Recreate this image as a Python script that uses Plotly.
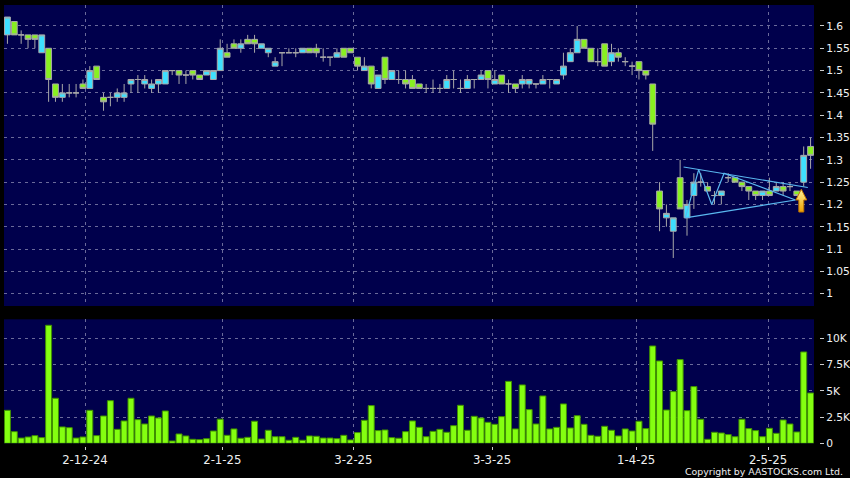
import plotly.graph_objects as go

# ---------------- data ----------------
date_tick_pos = [11.3, 31.3, 50.4, 70.6, 91.6, 110.8]
date_tick_labels = ["2-12-24", "2-1-25", "3-2-25", "3-3-25", "1-4-25", "2-5-25"]

price_ticks = [1.0, 1.05, 1.1, 1.15, 1.2, 1.25, 1.3, 1.35, 1.4, 1.45, 1.5, 1.55, 1.6]
price_tick_labels = ["1", "1.05", "1.1", "1.15", "1.2", "1.25", "1.3", "1.35", "1.4",
                     "1.45", "1.5", "1.55", "1.6"]
vol_ticks = [0, 2500, 5000, 7500, 10000]
vol_tick_labels = ["0", "2.5K", "5K", "7.5K", "10K"]

open_ = [1.58, 1.61, 1.58, 1.58, 1.58, 1.54, 1.55, 1.47, 1.44, 1.45,
         1.45, 1.47, 1.46, 1.51, 1.44, 1.44, 1.44, 1.44, 1.47, 1.48,
         1.47, 1.46, 1.47, 1.47, 1.50, 1.50, 1.49, 1.50, 1.49, 1.49,
         1.48, 1.50, 1.54, 1.56, 1.55, 1.57, 1.57, 1.55, 1.54, 1.51,
         1.54, 1.54, 1.54, 1.54, 1.55, 1.55, 1.53, 1.53, 1.53, 1.55,
         1.55, 1.53, 1.50, 1.51, 1.46, 1.53, 1.48, 1.48, 1.48, 1.48,
         1.47, 1.46, 1.46, 1.46, 1.46, 1.48, 1.46, 1.46, 1.48, 1.48,
         1.50, 1.47, 1.49, 1.47, 1.47, 1.47, 1.47, 1.47, 1.47, 1.48,
         1.47, 1.49, 1.52, 1.54, 1.57, 1.55, 1.52, 1.56, 1.52, 1.54,
         1.52, 1.51, 1.52, 1.50, 1.47, 1.23, 1.17, 1.14, 1.26, 1.17,
         1.22, 1.25, 1.24, 1.22, 1.22, 1.26, 1.26, 1.25, 1.24, 1.23,
         1.22, 1.23, 1.23, 1.24, 1.24, 1.23, 1.25, 1.33]

high = [1.62, 1.61, 1.59, 1.58, 1.58, 1.58, 1.55, 1.47, 1.47, 1.47,
        1.47, 1.48, 1.51, 1.51, 1.45, 1.45, 1.46, 1.47, 1.48, 1.49,
        1.49, 1.48, 1.48, 1.50, 1.50, 1.50, 1.50, 1.50, 1.49, 1.50,
        1.50, 1.57, 1.56, 1.57, 1.57, 1.58, 1.58, 1.56, 1.55, 1.53,
        1.54, 1.55, 1.55, 1.55, 1.55, 1.56, 1.55, 1.53, 1.55, 1.55,
        1.55, 1.53, 1.53, 1.51, 1.49, 1.53, 1.50, 1.50, 1.50, 1.49,
        1.47, 1.47, 1.48, 1.47, 1.49, 1.50, 1.48, 1.49, 1.48, 1.50,
        1.50, 1.50, 1.49, 1.48, 1.47, 1.49, 1.48, 1.47, 1.49, 1.48,
        1.48, 1.54, 1.55, 1.60, 1.57, 1.55, 1.55, 1.56, 1.56, 1.55,
        1.53, 1.52, 1.52, 1.50, 1.47, 1.25, 1.20, 1.17, 1.30, 1.21,
        1.27, 1.27, 1.25, 1.23, 1.23, 1.27, 1.26, 1.25, 1.24, 1.23,
        1.23, 1.26, 1.25, 1.25, 1.25, 1.23, 1.33, 1.35]

low = [1.56, 1.58, 1.56, 1.55, 1.55, 1.54, 1.43, 1.43, 1.43, 1.44,
       1.44, 1.46, 1.46, 1.48, 1.41, 1.42, 1.43, 1.43, 1.45, 1.45,
       1.46, 1.45, 1.45, 1.47, 1.49, 1.47, 1.47, 1.48, 1.48, 1.49,
       1.48, 1.50, 1.53, 1.55, 1.54, 1.56, 1.54, 1.55, 1.53, 1.51,
       1.51, 1.54, 1.53, 1.54, 1.54, 1.53, 1.52, 1.51, 1.53, 1.53,
       1.54, 1.50, 1.50, 1.46, 1.46, 1.47, 1.48, 1.47, 1.46, 1.46,
       1.46, 1.45, 1.45, 1.45, 1.46, 1.46, 1.45, 1.46, 1.46, 1.48,
       1.46, 1.47, 1.47, 1.45, 1.45, 1.46, 1.46, 1.46, 1.47, 1.46,
       1.47, 1.48, 1.52, 1.54, 1.55, 1.52, 1.51, 1.51, 1.51, 1.52,
       1.51, 1.49, 1.48, 1.48, 1.32, 1.14, 1.15, 1.08, 1.19, 1.13,
       1.19, 1.24, 1.23, 1.20, 1.20, 1.25, 1.25, 1.23, 1.21, 1.21,
       1.21, 1.22, 1.23, 1.22, 1.23, 1.22, 1.24, 1.28]

close = [1.62, 1.58, 1.58, 1.57, 1.57, 1.58, 1.48, 1.44, 1.45, 1.45,
         1.45, 1.46, 1.50, 1.48, 1.43, 1.44, 1.45, 1.45, 1.48, 1.48,
         1.48, 1.47, 1.48, 1.50, 1.50, 1.49, 1.49, 1.49, 1.48, 1.50,
         1.50, 1.55, 1.53, 1.55, 1.56, 1.56, 1.56, 1.56, 1.55, 1.52,
         1.54, 1.54, 1.54, 1.55, 1.54, 1.54, 1.53, 1.53, 1.54, 1.53,
         1.54, 1.51, 1.51, 1.47, 1.49, 1.48, 1.50, 1.48, 1.47, 1.46,
         1.46, 1.46, 1.46, 1.46, 1.48, 1.48, 1.46, 1.48, 1.48, 1.49,
         1.48, 1.48, 1.47, 1.47, 1.46, 1.48, 1.48, 1.47, 1.48, 1.48,
         1.48, 1.51, 1.54, 1.57, 1.55, 1.52, 1.52, 1.51, 1.54, 1.53,
         1.52, 1.51, 1.50, 1.49, 1.38, 1.19, 1.18, 1.17, 1.19, 1.20,
         1.25, 1.25, 1.23, 1.22, 1.23, 1.26, 1.25, 1.24, 1.23, 1.22,
         1.23, 1.22, 1.24, 1.23, 1.24, 1.22, 1.31, 1.31]

volume_k = [3.14, 1.11, 0.5, 0.6, 0.73, 0.54, 11.24, 4.29, 1.56, 1.49,
            0.5, 0.6, 3.14, 0.73, 2.6, 4.06, 1.33, 2.13, 4.29, 2.25,
            1.84, 2.6, 2.41, 3.08, 0.22, 0.89, 0.7, 0.38, 0.35, 0.44,
            1.17, 2.3, 0.76, 1.37, 0.48, 0.57, 2.1, 0.41, 1.24, 0.63,
            0.63, 0.29, 0.57, 0.29, 0.7, 0.67, 0.5, 0.5, 0.44, 0.76,
            0.32, 1.02, 2.19, 3.59, 1.21, 1.27, 0.54, 0.48, 1.11, 2.13,
            1.52, 0.63, 1.14, 1.33, 1.05, 1.68, 3.62, 1.24, 2.57, 2.41,
            2.0, 1.81, 2.54, 5.9, 1.37, 5.56, 3.21, 1.84, 4.51, 1.37,
            1.52, 3.75, 1.46, 2.63, 1.81, 0.76, 0.67, 1.62, 1.24, 0.7,
            1.37, 1.17, 2.1, 1.4, 9.27, 7.84, 3.17, 4.92, 7.97, 3.11,
            5.4, 2.29, 0.38, 1.05, 0.98, 0.83, 0.63, 2.29, 1.4, 1.21,
            0.63, 1.43, 0.95, 2.22, 1.84, 1.08, 8.7, 4.79]

# triangle pattern drawn on the chart (session index, price)
tri_upper_k = [98.5, 116.6]
tri_upper_p = [1.284, 1.238]
tri_lower_k = [98.75, 114.8]
tri_lower_p = [1.170, 1.210]
zigzag_k = [98.75, 100.7, 102.6, 104.4, 114.8]
zigzag_p = [1.170, 1.278, 1.200, 1.270, 1.210]

# breakout arrow
arrow_k = 115.65
arrow_tip = 1.234
arrow_base = 1.183

# ---------------- styling ----------------
NAVY = "#00004c"
CYAN = "#3ee0ff"
GREEN = "#88f020"
WICK = "#a8a8a8"
VOL_GREEN = "#84ff10"
VOL_EDGE = "#3f8f00"
GRID = "#6a6a9a"
TXT = "#f0f0f0"
FONT = "DejaVu Sans"

idx = list(range(len(close)))
volume = [v * 1000 for v in volume_k]

fig = go.Figure()

fig.add_trace(go.Candlestick(
    x=idx, open=open_, high=high, low=low, close=close,
    xaxis="x", yaxis="y",
    increasing=dict(fillcolor=CYAN, line=dict(color=WICK, width=1)),
    decreasing=dict(fillcolor=GREEN, line=dict(color=WICK, width=1)),
    whiskerwidth=0, showlegend=False, hoverinfo="skip",
))

line_style = dict(color="#5ab8f0", width=1.2)
for xs, ys in [(tri_upper_k, tri_upper_p), (tri_lower_k, tri_lower_p), (zigzag_k, zigzag_p)]:
    fig.add_trace(go.Scatter(x=xs, y=ys, mode="lines", line=line_style,
                             xaxis="x", yaxis="y", showlegend=False, hoverinfo="skip"))

# arrow polygon
hw, sw, hh = 0.8, 0.36, 0.024
ax_pts = [arrow_k, arrow_k + hw, arrow_k + sw, arrow_k + sw, arrow_k - sw, arrow_k - sw, arrow_k - hw, arrow_k]
ay_pts = [arrow_tip, arrow_tip - hh, arrow_tip - hh, arrow_base, arrow_base, arrow_tip - hh, arrow_tip - hh, arrow_tip]
fig.add_trace(go.Scatter(
    x=ax_pts, y=ay_pts, mode="lines", fill="toself",
    fillgradient=dict(type="vertical", colorscale=[[0, "#eea000"], [1, "#fff59a"]]),
    line=dict(color="#c27400", width=1),
    xaxis="x", yaxis="y", showlegend=False, hoverinfo="skip",
))

fig.add_trace(go.Bar(
    x=idx, y=volume, xaxis="x2", yaxis="y2",
    marker=dict(color=VOL_GREEN, line=dict(color=VOL_EDGE, width=1)),
    showlegend=False, hoverinfo="skip",
))

W, H = 850, 478
ml, mr, mt, mb = 4, 20, 5, 32
pw = W - ml - mr
ph = H - mt - mb
x_end = (814 - ml) / pw
y_axis_pos = (819 - ml) / pw
price_dom = [(H - mb - 306) / ph, 1]
vol_dom = [(H - mb - 443.3) / ph, (H - mb - 319.3) / ph]

common_x = dict(domain=[0, x_end], range=[-0.5, 117.5], tickvals=date_tick_pos,
                showgrid=True, gridcolor=GRID, griddash="3px,4px", gridwidth=1,
                zeroline=False, showline=False)

fig.update_layout(
    width=W, height=H,
    margin=dict(l=ml, r=mr, t=mt, b=mb),
    paper_bgcolor="#000000", plot_bgcolor=NAVY,
    font=dict(family=FONT, color=TXT),
    showlegend=False,
    boxgap=0.15, boxgroupgap=0, bargap=0.13,
    xaxis=dict(**common_x, anchor="y", showticklabels=False, ticks="",
               rangeslider=dict(visible=False)),
    xaxis2=dict(**common_x, anchor="free", position=0, ticktext=date_tick_labels,
                ticks="outside", ticklen=3, tickcolor="#cccccc",
                tickfont=dict(family=FONT, size=11.7, color=TXT)),
    yaxis=dict(domain=price_dom, range=[0.9724, 1.647], anchor="free", position=y_axis_pos,
               side="right", tickvals=price_ticks, ticktext=price_tick_labels,
               ticks="outside", ticklen=4, tickcolor="#cccccc",
               tickfont=dict(family=FONT, size=10.7, color=TXT),
               showgrid=True, gridcolor=GRID, griddash="3px,4px", gridwidth=1,
               zeroline=False, showline=False, automargin=False),
    yaxis2=dict(domain=vol_dom, range=[0, 11810], anchor="free", position=y_axis_pos,
                side="right", tickvals=vol_ticks, ticktext=vol_tick_labels,
                ticks="outside", ticklen=4, tickcolor="#cccccc",
                tickfont=dict(family=FONT, size=10.7, color=TXT),
                showgrid=True, gridcolor=GRID, griddash="3px,4px", gridwidth=1,
                zeroline=False, showline=False, automargin=False),
    annotations=[dict(text="Copyright by AASTOCKS.com Ltd.", xref="paper", yref="paper",
                      x=(845 - ml) / pw, y=(H - mb - 471.7) / ph, xanchor="right",
                      yanchor="middle", showarrow=False,
                      font=dict(family=FONT, size=9.4, color=TXT))],
)

fig.write_html("out.html", config={"displayModeBar": False},
               post_script="document.body.style.margin='0';document.body.style.overflow='hidden';")
